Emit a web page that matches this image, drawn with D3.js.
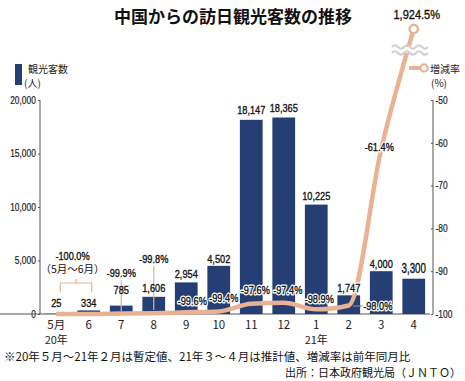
<!DOCTYPE html>
<html><head><meta charset="utf-8">
<script src="https://cdn.jsdelivr.net/npm/d3@7"></script>
<style>
body{margin:0;background:#fff;}
svg{display:block;}
.num{font-family:"Liberation Sans Narrow","Liberation Sans","Noto Sans",sans-serif;}
.jp{font-family:"Noto Sans CJK JP","Noto Sans",sans-serif;}
</style></head>
<body>
<svg id="c" width="465" height="381"></svg>
<script>
// ---- data ----
const months = ["5月","6","7","8","9","10","11","12","1","2","3","4"];
const visitors = [25,334,785,1606,2954,4502,18147,18365,10225,1747,4000,3300];
const changeRate = [-100.0,-100.0,-99.9,-99.8,-99.6,-99.4,-97.6,-97.4,-98.9,-98.0,-61.4,1924.5];
const leftTicks = [0,5000,10000,15000,20000];
const rightTicks = [-100,-90,-80,-70,-60,-50];
const yearMonths = ["5月","1"];
const yearTexts = ["20年","21年"];
const title = "中国からの訪日観光客数の推移";
const note = "※20年５月～21年２月は暫定値、21年３～４月は推計値、増減率は前年同月比";
const source = "出所：日本政府観光局（ＪＮＴＯ）";

// ---- layout / style ----
const barColor = "#253e74", lineColor = "#e8b293", axisColor = "#555";
const svg = d3.select("#c");
const x = d3.scaleBand().domain(months).range([40,430]).paddingInner(0.3).paddingOuter(0.15);
const yL = d3.scaleLinear().domain([0,20000]).range([314,100]);
const yR = d3.scaleLinear().domain([-100,-50,1924.5]).range([314,100,29]);
const cx = m => x(m) + x.bandwidth()/2;
const hy = s => s.replace(/\u2212/g,"-");

function numText(px, py, str, size, sx, opt={}){
  const tr = `translate(${px},${py}) scale(${sx},1)`;
  if(opt.halo){
    svg.append("text").attr("class","num").attr("transform",tr).attr("text-anchor","middle")
      .attr("font-size",size).attr("fill","#fff").attr("stroke","#fff").attr("stroke-width",3)
      .attr("stroke-linejoin","round").text(str);
  }
  return svg.append("text").attr("class","num").attr("transform",tr)
    .attr("text-anchor","middle").attr("font-size",size).attr("fill","#111")
    .attr("stroke","#111").attr("stroke-width",0.35).text(str);
}

// title
svg.append("text").attr("class","jp").attr("x",233).attr("y",23).attr("text-anchor","middle")
  .attr("font-size",17).attr("font-weight","bold").attr("fill","#111").text(title);

// legends
svg.append("rect").attr("x",15).attr("y",64).attr("width",7).attr("height",21).attr("fill",barColor);
svg.append("text").attr("class","jp").attr("x",28).attr("y",73).attr("font-size",10).attr("fill","#222").text("観光客数");
svg.append("text").attr("class","jp").attr("x",24).attr("y",87).attr("font-size",10).attr("fill","#222").text("(人)");
svg.append("line").attr("x1",409).attr("x2",421).attr("y1",68).attr("y2",68).attr("stroke",lineColor).attr("stroke-width",4);
svg.append("circle").attr("cx",424).attr("cy",68).attr("r",3.6).attr("fill","#fff").attr("stroke",lineColor).attr("stroke-width",2.2);
svg.append("text").attr("class","jp").attr("x",430).attr("y",73).attr("font-size",10).attr("fill","#222").text("増減率");
svg.append("text").attr("class","jp").attr("x",431).attr("y",87).attr("font-size",10).attr("fill","#222").text("(%)");

// axes
const gL = svg.append("g").attr("transform","translate(40,0)")
  .call(d3.axisLeft(yL).tickValues(leftTicks).tickFormat(d3.format(",")).tickSize(2).tickPadding(3));
const gR = svg.append("g").attr("transform","translate(433,0)")
  .call(d3.axisRight(yR).tickValues(rightTicks).tickFormat(d=>hy(String(d))).tickSize(0).tickPadding(3));
[gL,gR].forEach(g=>{
  g.select(".domain").attr("stroke",axisColor).attr("stroke-width",1).attr("d","M0,100V314");
  g.selectAll(".tick line").attr("stroke",axisColor);
  g.selectAll(".tick text").attr("class","num").attr("font-size",10).attr("fill","#222")
    .attr("stroke","#222").attr("stroke-width",0.2).attr("transform",`scale(0.84,1)`);
});
gR.selectAll(".tick").append("line").attr("x1",-2).attr("x2",0).attr("stroke",axisColor);

// x labels
const gx = svg.append("g").attr("transform","translate(0,314)")
  .call(d3.axisBottom(x).tickSize(0).tickPadding(7));
gx.select(".domain").attr("d","M0,0H430").attr("stroke",axisColor);
gx.selectAll(".tick text").attr("class","jp").attr("font-size",11.5).attr("fill","#222");
svg.selectAll(".yr").data(yearMonths).join("text").attr("class","jp")
  .attr("x",d=>cx(d)).attr("y",344).attr("text-anchor","middle").attr("font-size",11).attr("fill","#222")
  .text((d,i)=>yearTexts[i]);

// bars
svg.selectAll(".bar").data(visitors).join("rect")
  .attr("x",(d,i)=>x(months[i])).attr("width",x.bandwidth())
  .attr("y",d=>yL(d)).attr("height",d=>314-yL(d)).attr("fill",barColor);

// leader lines for 7,8
svg.append("line").attr("x1",cx(months[2])).attr("x2",cx(months[2])).attr("y1",280).attr("y2",311).attr("stroke",lineColor).attr("stroke-width",1.2);
svg.append("line").attr("x1",cx(months[3])).attr("x2",cx(months[3])).attr("y1",266).attr("y2",310).attr("stroke",lineColor).attr("stroke-width",1.2);
// bracket 5-6
const b1 = cx(months[0])+4, b2 = cx(months[1])+3, bm=(b1+b2)/2;
svg.append("path").attr("d",`M${b1},292V283H${b2}V292M${bm},283V279`).attr("fill","none").attr("stroke",lineColor).attr("stroke-width",1.2);

// grey leader for 2月
svg.append("line").attr("x1",cx(months[9])+4).attr("x2",cx(months[9])+14).attr("y1",306).attr("y2",306).attr("stroke","#888").attr("stroke-width",1.2);

// line
const pts = changeRate.map((v,i)=>[cx(months[i]), yR(v)]);
svg.append("path").attr("d",d3.line().curve(d3.curveMonotoneX)(pts))
  .attr("fill","none").attr("stroke",lineColor).attr("stroke-width",4.5).attr("stroke-linejoin","round");
svg.append("circle").attr("cx",pts[11][0]).attr("cy",pts[11][1]).attr("r",4.2).attr("fill","#fff").attr("stroke",lineColor).attr("stroke-width",2.4);

// break waves
const wave = (y0)=>{ let d=`M392,${y0}`; for(let k=0;k<3;k++){ const xs=392+k*12; d+=`Q${xs+3},${y0-3.5} ${xs+6},${y0} T${xs+12},${y0}`;} return d; };
svg.append("rect").attr("x",400).attr("y",47).attr("width",24).attr("height",6).attr("fill","#fff");
[47,53].forEach(y0=>svg.append("path").attr("d",wave(y0)).attr("fill","none").attr("stroke","#cfcfcf").attr("stroke-width",2));

// bar labels (drawn above the line)
const fmt = d3.format(",");
const barLabelDy = [-7,-4,-12,-5,-4,-3,-6,-5,-5,-3,-3,-6];
visitors.forEach((d,i)=>{
  const yy = i<2 ? 307 : yL(d)+barLabelDy[i];
  if(i===11) numText(cx(months[i]), yy, fmt(d), 14, 0.7);
  else numText(cx(months[i]), yy, fmt(d), 11.5, 0.8, {halo: i===9});
});

// rate labels
const rfmt = v => hy((Math.abs(v)>=1000?d3.format(",.1f")(v):d3.format(".1f")(v))+"%");
const rateDx = [0,0,0,0,6,5,4,4,3,29,-2,3];
const rateDy = [0,0,-36.5,-50,-7,-9,-9.5,-9,-6,5,2,-10];
const halo = [0,0,0,0,1,1,1,1,1,1,1,0];
for(let i=2;i<changeRate.length;i++){
  if(i===11) numText(pts[i][0]+rateDx[i], pts[i][1]+rateDy[i], rfmt(changeRate[i]), 13, 0.85);
  else numText(pts[i][0]+rateDx[i], pts[i][1]+rateDy[i], rfmt(changeRate[i]), 11.5, 0.8, {halo:halo[i]});
}
numText((pts[0][0]+pts[1][0])/2, 260, rfmt(changeRate[0]), 11.5, 0.8);
svg.append("text").attr("class","jp").attr("x",(pts[0][0]+pts[1][0])/2).attr("y",273).attr("text-anchor","middle")
  .attr("font-size",10.5).attr("fill","#111").text("（5月～6月）");

// footnotes
svg.append("text").attr("class","jp").attr("x",4).attr("y",361).attr("font-size",11.5).attr("fill","#111").text(note);
svg.append("text").attr("class","jp").attr("x",461).attr("y",377).attr("text-anchor","end").attr("font-size",11).attr("fill","#111").text(source);
</script>
</body></html>
